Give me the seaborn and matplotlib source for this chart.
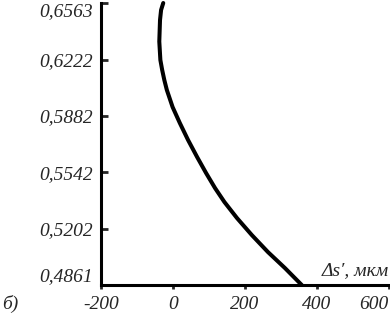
import numpy as np
import pandas as pd
import matplotlib
matplotlib.use("Agg")
import matplotlib.pyplot as plt
import seaborn as sns

# values
lam = [0.6563, 0.6521, 0.6460, 0.6382, 0.6279, 0.6219, 0.6159, 0.6098,
       0.6038, 0.5935, 0.5839, 0.5736, 0.5634, 0.5537, 0.5446, 0.5362,
       0.5265, 0.5163, 0.5060, 0.4964, 0.4861]
ds = [-27, -33, -36, -38, -38, -35, -30, -24,
      -17, -1, 19, 42, 67, 92, 117, 143,
      178, 219, 264, 311, 358]

yticks = [0.4861, 0.5202, 0.5542, 0.5882, 0.6222, 0.6563]
xticks = [-200, 0, 200, 400, 600]

df = pd.DataFrame({"ds": ds, "lam": lam})

sns.set_style("white")
plt.rcParams["font.family"] = ["Liberation Serif", "DejaVu Serif"]
plt.rcParams["font.style"] = "italic"
plt.rcParams["axes.unicode_minus"] = False

fig = plt.figure(figsize=(3.9, 3.16), dpi=100)
ax = fig.add_axes([0.259, 0.098, 0.738, 0.8925])

sns.lineplot(data=df, x="ds", y="lam", sort=False, color="black",
             linewidth=2.9, ax=ax, clip_on=False)

ax.set_xlim(-200, 600)
ax.set_ylim(0.4861, 0.6563)
ax.set_xticks(xticks)
ax.set_xticklabels([str(v) for v in xticks])
ax.set_yticks(yticks)
ax.set_yticklabels([f"{v:.4f}".replace(".", ",") for v in yticks])
ax.set_xlabel("")
ax.set_ylabel("")

for s in ["top", "right"]:
    ax.spines[s].set_visible(False)
for s in ["left", "bottom"]:
    ax.spines[s].set_linewidth(2.2)
    ax.spines[s].set_color("black")

ax.tick_params(axis="y", direction="in", length=5, width=2, pad=6,
               labelsize=14, left=True)
ax.tick_params(axis="x", direction="out", length=3, width=2, pad=5,
               labelsize=14, bottom=True)

# end labels sit inside the axis span, as in the original
ylabs = ax.get_yticklabels()
ylabs[0].set_va("bottom")
ylabs[-1].set_va("top")
xlabs = ax.get_xticklabels()
xlabs[-1].set_ha("right")

ax.text(1.0, 0.02, "Δs′, мкм", transform=ax.transAxes, ha="right",
        va="bottom", fontsize=14, style="italic")
fig.text(0.005, 0.008, "б)", ha="left", va="bottom", fontsize=14,
         style="italic")

plt.savefig("out.png", dpi=100)
